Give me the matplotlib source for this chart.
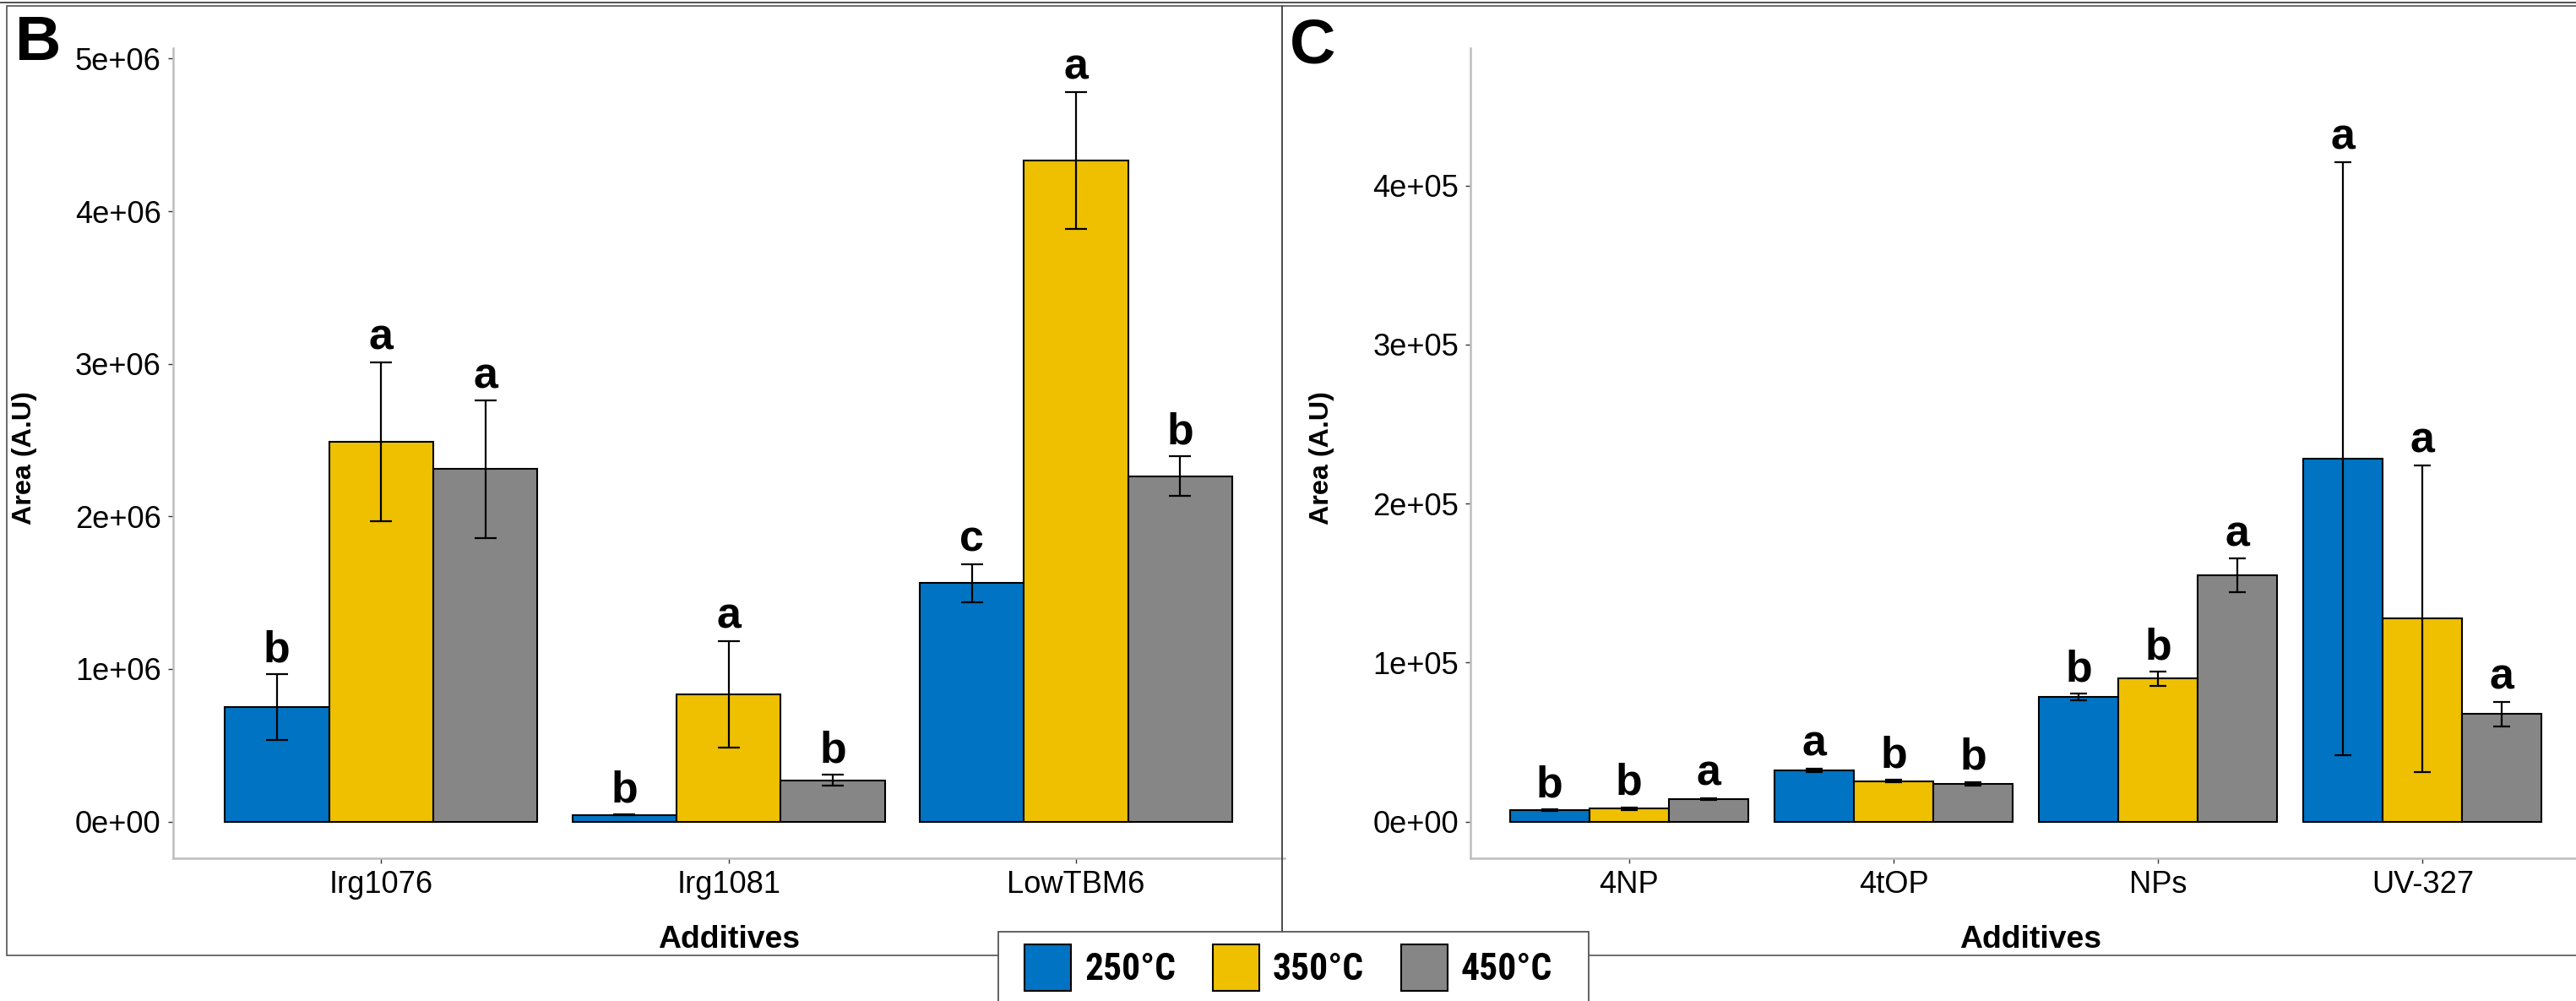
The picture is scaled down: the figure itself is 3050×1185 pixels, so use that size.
import numpy as np
import matplotlib
matplotlib.use("Agg")
import matplotlib.pyplot as plt
from matplotlib.patches import Rectangle
from matplotlib.lines import Line2D
from matplotlib import font_manager as fm
from matplotlib.ticker import FixedLocator, FuncFormatter

# ---------------- data ----------------
temps = ["250°C", "350°C", "450°C"]
colors = ["#0073C2", "#EFC000", "#868686"]

cats_B = ["Irg1076", "Irg1081", "LowTBM6"]
mean_B_250 = [0.749e6, 0.044e6, 1.563e6]
mean_B_350 = [2.49e6, 0.834e6, 4.332e6]
mean_B_450 = [2.31e6, 0.271e6, 2.264e6]
se_B_250 = [0.215e6, 0.003e6, 0.124e6]
se_B_350 = [0.52e6, 0.35e6, 0.45e6]
se_B_450 = [0.45e6, 0.036e6, 0.13e6]
let_B_250 = ["b", "b", "c"]
let_B_350 = ["a", "a", "a"]
let_B_450 = ["a", "b", "b"]
yticks_B = [0, 1e6, 2e6, 3e6, 4e6, 5e6]

cats_C = ["4NP", "4tOP", "NPs", "UV-327"]
mean_C_250 = [7300, 32300, 78500, 228400]
mean_C_350 = [8200, 25600, 89900, 127700]
mean_C_450 = [14300, 23900, 154900, 67700]
se_C_250 = [500, 1200, 2000, 186500]
se_C_350 = [800, 700, 4500, 96500]
se_C_450 = [600, 1200, 10600, 7600]
let_C_250 = ["b", "a", "b", "a"]
let_C_350 = ["b", "b", "b", "a"]
let_C_450 = ["a", "b", "a", "a"]
yticks_C = [0, 1e5, 2e5, 3e5, 4e5]

# ---------------- figure ----------------
W, H, DPI = 3050, 1185, 100
fig = plt.figure(figsize=(W / DPI, H / DPI), dpi=DPI)
fig.patch.set_facecolor("white")

FONT = "Liberation Sans"
plt.rcParams["font.family"] = [FONT, "DejaVu Sans"]


def pick_condensed_bold():
    pref = ["liberation sans narrow", "arial narrow", "roboto condensed",
            "open sans condensed", "noto sans condensed", "noto sans", "dejavu sans"]
    best, best_rank = None, 999
    for f in fm.fontManager.ttflist:
        name = f.name.lower()
        st = str(f.stretch).lower()
        cond = ("narrow" in name) or ("condensed" in name) or ("condensed" in st)
        if not cond or f.style != "normal":
            continue
        w = f.weight
        if not isinstance(w, int):
            w = {"bold": 700, "semibold": 600, "demibold": 600, "heavy": 800,
                 "black": 900, "extra bold": 800}.get(str(w).lower(), 400)
        if w < 600:
            continue
        rank = len(pref)
        for i, p in enumerate(pref):
            if name.startswith(p):
                rank = i
                break
        if "ultra" in st or "extra" in st:
            rank += 0.5
        if rank < best_rank:
            best, best_rank = f.fname, rank
    return best


cond_path = pick_condensed_bold()


def rect(l, t, r, b):
    return [l / W, 1 - b / H, (r - l) / W, (b - t) / H]


def fx(x):
    return x / W


def fy(y):
    return 1 - y / H


def panel(ax, cats, means, ses, lets, yticks, ylim, cap_pt, lab_x):
    x = np.arange(1, len(cats) + 1)
    offs = [-0.3, 0.0, 0.3]
    for m, s, l, c, o in zip(means, ses, lets, colors, offs):
        ax.bar(x + o, m, width=0.3, color=c, edgecolor="black", linewidth=1.5, zorder=2)
        ax.errorbar(x + o, m, yerr=s, fmt="none", ecolor="black", elinewidth=1.6,
                    capsize=cap_pt, capthick=1.6, zorder=3)
        for xi, mi, si, li in zip(x + o, m, s, l):
            ax.annotate(li, xy=(xi, mi + si), xytext=(0, 10.8), textcoords="offset points",
                        ha="center", va="baseline", fontsize=37.4, fontweight="bold",
                        family=[FONT, "DejaVu Sans"], zorder=4)
    ax.set_xlim(0.4, len(cats) + 0.6)
    ax.set_ylim(*ylim)
    ax.set_xticks(x)
    ax.set_xticklabels(cats)
    ax.yaxis.set_major_locator(FixedLocator(yticks))
    ax.yaxis.set_major_formatter(FuncFormatter(lambda v, p: f"{v:.0e}"))
    for sp in ["top", "right"]:
        ax.spines[sp].set_visible(False)
    for sp in ["left", "bottom"]:
        ax.spines[sp].set_color("#bdbdbd")
        ax.spines[sp].set_linewidth(1.8)
    ax.tick_params(axis="both", length=4.5, width=1.0, color="#333333",
                   labelsize=26.1, labelcolor="black", pad=5.5)
    ax.set_facecolor("none")
    ax.set_xlabel("Additives", fontsize=26.9, fontweight="bold")
    ax.xaxis.set_label_coords(lab_x, -(1095 - 1015.7) / 958.4)
    ax.xaxis.label.set_va("top")
    ax.set_ylabel("Area (A.U)", fontsize=23.2, fontweight="bold")
    ax.yaxis.label.set_va("center")


axB = fig.add_axes(rect(204.5, 57.3, 1520.9, 1015.7))
panel(axB, cats_B, [mean_B_250, mean_B_350, mean_B_450], [se_B_250, se_B_350, se_B_450],
      [let_B_250, let_B_350, let_B_450], yticks_B, (-0.2386e6, 5.067e6), 9.4, 0.5)
axB.yaxis.set_label_coords((29 - 204.5) / 1316.4, (1015.7 - 542.5) / 958.4)

axC = fig.add_axes(rect(1740.9, 57.3, 3056.3, 1015.7))
panel(axC, cats_C, [mean_C_250, mean_C_350, mean_C_450], [se_C_250, se_C_350, se_C_450],
      [let_C_250, let_C_350, let_C_450], yticks_C, (-0.228e5, 4.862e5), 7.4, 0.504)
axC.yaxis.set_label_coords((1565 - 1740.9) / 1315.4, (1015.7 - 542.5) / 958.4)

# panel letters
fig.text(fx(18.3), fy(16.7), "B", ha="left", va="top", fontsize=54.3, fontweight="bold")
fig.text(fx(1526.7), fy(20.5), "C", ha="left", va="top", fontsize=54.3, fontweight="bold")

# frames
frame_col = "#444444"
fig.add_artist(Line2D([0, 1], [fy(2.5), fy(2.5)], transform=fig.transFigure,
                      color=frame_col, lw=1.3, zorder=5))
fig.add_artist(Rectangle((fx(8), fy(1131)), fx(1517.7) - fx(8), fy(7) - fy(1131),
                         transform=fig.transFigure, fill=False, edgecolor=frame_col,
                         lw=1.1, zorder=5))
fig.add_artist(Rectangle((fx(1517.7), fy(1131)), fx(3070) - fx(1517.7), fy(7) - fy(1131),
                         transform=fig.transFigure, fill=False, edgecolor=frame_col,
                         lw=1.1, zorder=5))

# legend box
fig.add_artist(Rectangle((fx(1182), fy(1200)), fx(1880.6) - fx(1182), fy(1102.7) - fy(1200),
                         transform=fig.transFigure, facecolor="white", edgecolor="#555555",
                         lw=1.3, zorder=6))
key_x0, key_step, key_w, key_top, key_h = 1212.7, 222.95, 55.5, 1118.3, 55.0
renderer = fig.canvas.get_renderer()
target_w = 108.0
cap_size = 35.2
for i, (t, c) in enumerate(zip(temps, colors)):
    kx = key_x0 + i * key_step
    fig.add_artist(Rectangle((fx(kx), fy(key_top + key_h)), key_w / W, key_h / H,
                             transform=fig.transFigure, facecolor=c, edgecolor="black",
                             lw=1.5, zorder=7))
    if cond_path:
        fp = fm.FontProperties(fname=cond_path, size=cap_size)
    else:
        fp = fm.FontProperties(family=FONT, weight="bold", size=cap_size)
    txt = fig.text(fx(kx + 71.3), fy(1160), t, ha="left", va="baseline",
                   fontproperties=fp, zorder=7)
    wpx = txt.get_window_extent(renderer).width
    if wpx > target_w:
        fp.set_size(cap_size * target_w / wpx)
        txt.set_fontproperties(fp)

fig.savefig("out.png", dpi=DPI, facecolor="white")
